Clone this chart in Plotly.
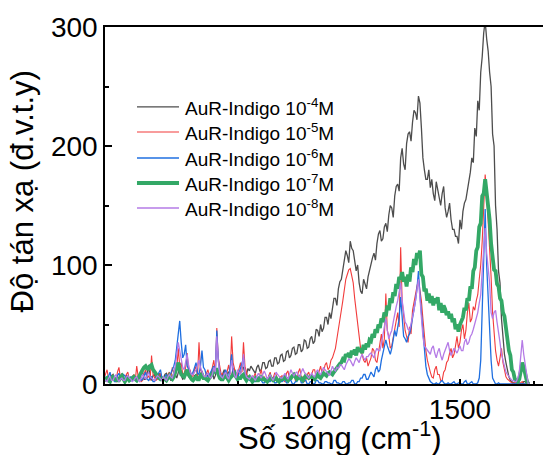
import plotly.graph_objects as go

# Raman shift grid (cm^-1), 5 cm^-1 step: 300 ... 1735
wavenumber = list(range(300, 1740, 5))

# Intensities (a.u.), one row per 100 cm^-1
aur_1e4 = [
    3, 5, 6, 2, 2, 7, 8, 3, 4, 6, 5, 3, 9, 4, 3, 7, 6, 2, 4, 5,
    7, 4, 3, 6, 5, 9, 10, 4, 4, 8, 16, 5, 3, 7, 8, 4, 5, 9, 7, 3,
    4, 8, 9, 5, 6, 3, 3, 9, 8, 5, 10, 14, 7, 4, 5, 9, 9, 6, 6, 3,
    4, 7, 8, 5, 6, 9, 11, 6, 5, 8, 7, 4, 9, 12, 4, 7, 12, 8, 6, 5,
    8, 12, 5, 9, 10, 6, 7, 13, 12, 8, 6, 10, 9, 14, 14, 9, 8, 13, 11, 15,
    13, 10, 9, 14, 16, 11, 12, 18, 18, 13, 14, 19, 20, 15, 15, 22, 22, 17, 18, 24,
    25, 19, 20, 27, 28, 22, 24, 30, 31, 25, 26, 33, 33, 27, 29, 37, 36, 30, 31, 38,
    40, 34, 36, 46, 45, 40, 50, 44, 47, 56, 56, 50, 60, 55, 65, 72, 72, 66, 80, 86,
    88, 96, 100, 112, 108, 102, 120, 114, 112, 104, 95, 100, 85, 78, 76, 88, 84, 80, 90, 96,
    100, 106, 110, 104, 118, 126, 129, 120, 122, 132, 135, 128, 142, 150, 148, 140, 158, 166, 168, 162,
    190, 198, 185, 180, 202, 210, 212, 204, 220, 230, 228, 222, 242, 236, 215, 190, 180, 172, 172, 180,
    165, 172, 160, 154, 170, 162, 155, 150, 160, 166, 148, 140, 145, 152, 138, 130, 130, 124, 124, 118,
    138, 130, 145, 152, 155, 162, 170, 178, 190, 186, 215, 208, 238, 230, 262, 275, 295, 305, 290, 280,
    262, 250, 210, 200, 150, 130, 95, 85, 55, 40, 25, 18, 10, 6, 3, 2, 1, 0, 0, 1,
    1, 0, 0, 2, 2, 0, 0, 1,
]
aur_1e5 = [
    5, 9, 12, 4, 3, 6, 8, 3, 2, 10, 14, 5, 6, 3, 4, 8, 10, 4, 3, 6,
    8, 3, 15, 6, 5, 2, 3, 9, 12, 5, 7, 3, 24, 8, 6, 3, 4, 7, 9, 5,
    6, 4, 3, 8, 10, 5, 14, 9, 8, 12, 30, 15, 18, 8, 9, 14, 26, 10, 12, 6,
    7, 12, 15, 6, 35, 12, 10, 5, 6, 9, 12, 6, 8, 14, 20, 9, 47, 22, 14, 8,
    9, 6, 5, 12, 16, 8, 40, 18, 12, 7, 8, 14, 18, 10, 35, 15, 10, 5, 6, 4,
    4, 7, 9, 3, 3, 8, 12, 5, 6, 2, 2, 7, 10, 4, 5, 9, 8, 3, 3, 6,
    7, 3, 2, 9, 11, 4, 5, 8, 9, 3, 4, 10, 13, 5, 6, 2, 3, 8, 10, 5,
    8, 12, 12, 5, 6, 11, 15, 9, 10, 16, 18, 12, 14, 20, 22, 26, 30, 38, 45, 52,
    62, 70, 80, 88, 92, 96, 97, 90, 85, 72, 60, 48, 38, 30, 25, 20, 18, 22, 15, 18,
    22, 30, 28, 20, 18, 26, 35, 42, 30, 38, 76, 45, 40, 30, 32, 40, 45, 52, 60, 48,
    115, 70, 55, 45, 40, 35, 48, 42, 62, 70, 75, 82, 88, 80, 70, 55, 40, 28, 20, 14,
    10, 6, 5, 12, 15, 8, 8, 3, 3, 10, 12, 18, 20, 26, 30, 22, 25, 32, 40, 30,
    35, 45, 50, 38, 45, 60, 68, 52, 55, 65, 62, 70, 75, 88, 100, 120, 150, 176, 160, 140,
    120, 90, 60, 40, 28, 20, 15, 22, 30, 18, 10, 6, 4, 3, 2, 1, 0, 2, 1, 0,
    0, 1, 2, 0, 0, 0, 0, 0,
]
aur_1e6 = [
    8, 4, 3, 6, 10, 3, 5, 2, 2, 7, 9, 5, 4, 8, 7, 3, 3, 5, 6, 2,
    5, 3, 2, 6, 8, 3, 4, 7, 10, 4, 3, 5, 6, 2, 2, 5, 7, 9, 12, 5,
    4, 6, 8, 5, 6, 9, 12, 15, 20, 30, 40, 53, 35, 22, 25, 33, 15, 12, 10, 8,
    10, 14, 18, 9, 8, 15, 28, 14, 12, 7, 6, 8, 10, 12, 15, 9, 45, 20, 10, 6,
    6, 9, 12, 7, 5, 14, 25, 10, 8, 5, 4, 9, 14, 18, 22, 8, 6, 4, 3, 5,
    5, 2, 2, 4, 6, 3, 3, 1, 1, 4, 4, 2, 2, 5, 5, 1, 1, 3, 3, 2,
    2, 3, 4, 1, 1, 3, 3, 0, 0, 2, 2, 5, 5, 1, 1, 3, 3, 0, 0, 2,
    2, 0, 0, 3, 3, 1, 1, 0, 0, 2, 2, 1, 1, 0, 0, 3, 3, 1, 1, 0,
    0, 2, 2, 0, 0, 1, 1, 3, 3, 0, 0, 2, 2, 5, 5, 8, 8, 4, 4, 7,
    10, 8, 6, 12, 15, 10, 12, 20, 25, 30, 37, 32, 28, 25, 30, 38, 45, 40, 50, 55,
    73, 55, 40, 38, 35, 40, 42, 48, 55, 62, 70, 80, 95, 75, 60, 40, 25, 15, 8, 4,
    2, 1, 0, 0, 1, 0, 0, 2, 3, 1, 0, 0, 1, 0, 0, 1, 2, 0, 0, 1,
    1, 0, 0, 2, 3, 0, 0, 1, 2, 0, 0, 0, 1, 5, 20, 60, 120, 147, 100, 70,
    40, 20, 5, 2, 0, 0, 1, 0, 0, 0, 0, 0, 0, 0, 0, 0, 0, 0, 0, 0,
    0, 0, 0, 0, 0, 0, 0, 0,
]
aur_1e7 = [
    3, 4, 5, 3, 2, 5, 6, 4, 4, 3, 3, 6, 7, 4, 2, 4, 5, 3, 4, 5,
    6, 4, 3, 5, 8, 10, 12, 14, 15, 13, 13, 15, 16, 12, 10, 8, 6, 5, 4, 5,
    5, 4, 3, 5, 7, 5, 4, 6, 10, 14, 18, 12, 8, 7, 6, 9, 12, 8, 5, 4,
    3, 5, 6, 4, 4, 7, 8, 5, 5, 4, 3, 5, 7, 9, 10, 12, 12, 8, 5, 4,
    4, 6, 7, 5, 3, 5, 6, 8, 9, 6, 4, 5, 5, 7, 8, 5, 3, 5, 6, 4,
    2, 4, 5, 3, 3, 5, 7, 4, 4, 3, 2, 4, 6, 4, 3, 4, 5, 3, 2, 4,
    4, 5, 6, 4, 3, 5, 5, 7, 8, 6, 4, 5, 6, 4, 3, 5, 7, 6, 5, 6,
    6, 5, 4, 6, 8, 6, 5, 7, 9, 8, 7, 9, 10, 9, 8, 10, 12, 14, 15, 17,
    18, 21, 20, 25, 23, 26, 22, 28, 25, 29, 24, 31, 27, 30, 26, 33, 29, 34, 31, 37,
    36, 42, 39, 46, 43, 50, 47, 55, 52, 60, 57, 66, 62, 72, 68, 77, 74, 84, 80, 90,
    88, 94, 86, 90, 82, 92, 86, 98, 94, 105, 100, 110, 106, 112, 92, 90, 78, 80, 70, 76,
    68, 74, 66, 72, 68, 73, 62, 68, 60, 66, 63, 58, 61, 55, 59, 52, 55, 46, 50, 44,
    50, 54, 56, 64, 62, 72, 70, 82, 80, 95, 98, 112, 115, 132, 135, 158, 160, 172, 162, 148,
    138, 118, 108, 96, 95, 84, 82, 72, 70, 60, 57, 46, 42, 28, 24, 12, 10, 4, 3, 2,
    4, 10, 18, 14, 8, 3, 0, 0,
]
aur_1e8 = [
    4, 3, 2, 5, 6, 3, 3, 6, 8, 4, 2, 4, 5, 3, 3, 6, 7, 5, 4, 2,
    3, 5, 6, 3, 2, 5, 8, 6, 4, 7, 10, 6, 5, 4, 3, 5, 7, 6, 4, 3,
    6, 4, 3, 6, 8, 6, 5, 9, 15, 25, 35, 28, 20, 14, 12, 18, 25, 16, 10, 8,
    8, 10, 12, 16, 20, 14, 10, 7, 6, 8, 9, 6, 5, 8, 14, 10, 40, 20, 8, 6,
    5, 8, 10, 6, 4, 9, 20, 12, 7, 5, 12, 10, 8, 14, 25, 10, 6, 5, 4, 6,
    7, 5, 3, 6, 9, 7, 5, 8, 11, 8, 4, 6, 8, 5, 3, 6, 10, 8, 6, 5,
    5, 7, 9, 6, 4, 8, 12, 9, 7, 9, 10, 7, 6, 10, 13, 10, 8, 6, 5, 7,
    9, 7, 6, 10, 12, 9, 8, 11, 14, 12, 10, 8, 7, 11, 15, 12, 11, 14, 13, 16,
    16, 14, 12, 16, 18, 21, 20, 17, 15, 19, 22, 20, 18, 22, 25, 22, 20, 23, 23, 25,
    26, 24, 22, 27, 30, 28, 28, 34, 40, 48, 55, 45, 38, 42, 45, 52, 60, 65, 70, 78,
    85, 70, 60, 52, 50, 46, 45, 50, 55, 62, 70, 80, 88, 72, 55, 40, 32, 30, 28, 26,
    25, 30, 32, 26, 22, 27, 30, 24, 20, 25, 28, 32, 35, 28, 24, 27, 30, 28, 26, 29,
    32, 28, 28, 35, 38, 33, 35, 40, 42, 46, 50, 55, 60, 68, 75, 95, 115, 131, 110, 95,
    85, 60, 55, 60, 62, 52, 45, 35, 25, 20, 15, 10, 8, 6, 5, 3, 3, 2, 2, 5,
    10, 25, 37, 25, 15, 5, 0, 0,
]

names = [
    "AuR-Indigo 10<sup>-4</sup>M",
    "AuR-Indigo 10<sup>-5</sup>M",
    "AuR-Indigo 10<sup>-6</sup>M",
    "AuR-Indigo 10<sup>-7</sup>M",
    "AuR-Indigo 10<sup>-8</sup>M",
]
values = [aur_1e4, aur_1e5, aur_1e6, aur_1e7, aur_1e8]
colors = ["#4d4d4d", "#f23b3b", "#1f6fe0", "#33a866", "#b57be6"]
widths = [1.3, 1.1, 1.3, 3.8, 1.3]

x_title = "Số sóng (cm<sup>-1</sup>)"
y_title = "Độ tán xạ (đ.v.t.y)"

font_family = "Liberation Sans, Arial, sans-serif"

fig = go.Figure()
for name, vals, color, w in zip(names, values, colors, widths):
    fig.add_trace(go.Scatter(x=wavenumber, y=vals, mode="lines", name=name,
                             line=dict(color=color, width=w), showlegend=False))

# Legend drawn in paper coordinates (long sample lines as in the original)
legend_y = [0.776, 0.706, 0.633, 0.563, 0.493]
shapes = []
annotations = []
for name, color, w, ly in zip(names, colors, widths, legend_y):
    shapes.append(dict(type="line", xref="paper", yref="paper", x0=0.073, x1=0.169,
                       y0=ly, y1=ly, line=dict(color=color, width=w)))
    annotations.append(dict(text=name, xref="paper", yref="paper", x=0.178, y=ly,
                            xanchor="left", yanchor="middle", showarrow=False,
                            font=dict(size=19, family=font_family, color="black")))

# Axis titles (the original plot frame is cropped, so titles sit off-centre)
annotations.append(dict(text=x_title, xref="paper", yref="paper", x=0.537, y=-0.146,
                        xanchor="center", yanchor="middle", showarrow=False,
                        font=dict(size=31, family=font_family, color="black")))
annotations.append(dict(text=y_title, xref="paper", yref="paper", x=-0.189, y=0.540,
                        xanchor="center", yanchor="middle", showarrow=False, textangle=-90,
                        font=dict(size=31, family=font_family, color="black")))

fig.update_layout(
    width=543, height=455,
    margin=dict(l=105, r=0, t=27, b=71),
    paper_bgcolor="white", plot_bgcolor="white",
    font=dict(family=font_family, color="black"),
    showlegend=False,
    shapes=shapes,
    annotations=annotations,
    xaxis=dict(range=[303, 1780], showgrid=False, zeroline=False,
               showline=True, linecolor="black", linewidth=1.5, mirror=True,
               ticks="inside", ticklen=5, tickwidth=1.5, tickcolor="black",
               tickvals=[500, 1000, 1500],
               minor=dict(tickvals=[750, 1250, 1750], ticks="inside", ticklen=3, tickcolor="black"),
               tickfont=dict(size=28)),
    yaxis=dict(range=[0, 300], showgrid=False, zeroline=False,
               showline=True, linecolor="black", linewidth=1.5, mirror=False,
               ticks="inside", ticklen=7, tickwidth=1.5, tickcolor="black",
               tickvals=[0, 100, 200, 300],
               minor=dict(tickvals=[50, 150, 250], ticks="inside", ticklen=4, tickcolor="black"),
               tickfont=dict(size=28)),
)

fig.write_html("out.html")
